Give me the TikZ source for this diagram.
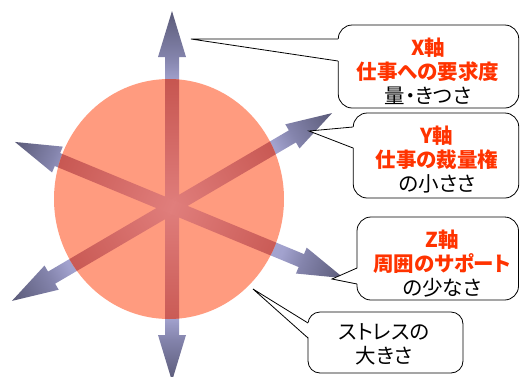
\documentclass[tikz,border=0pt]{standalone}
\usepackage{fontspec}
\newfontfamily\jp[RawFeature=+palt]{Noto Sans CJK JP}
\usetikzlibrary{calc}
\definecolor{armdark}{HTML}{5A5A78}
\definecolor{armmid}{HTML}{8484AC}
\definecolor{armlight}{HTML}{A2A2CE}
\definecolor{armcenter}{HTML}{B4B4DC}
\definecolor{ballfill}{HTML}{FF9B7F}
\definecolor{stripein}{HTML}{E07E7C}
\definecolor{stripeout}{HTML}{C4524C}
\definecolor{axred}{HTML}{FF3300}
\pgfdeclarehorizontalshading{armshade}{100bp}{color(0bp)=(armcenter); color(25bp)=(armcenter); color(57bp)=(armlight); color(63bp)=(armmid); color(75bp)=(armdark); color(100bp)=(armdark)}
\newcommand\halfarm[2]{%
  \begin{scope}[transform canvas={shift={(172,207)},rotate=#1}]
    \shade[shading=armshade] (0,-7) -- ({#2-46},-7) -- ({#2-46},-14) -- (#2,0) -- ({#2-46},14) -- ({#2-46},7) -- (0,7) -- cycle;
  \end{scope}}
\newcommand\armstripe[1]{%
  \begin{scope}[transform canvas={shift={(172,207)},rotate=#1}]
    \shade[left color=stripein, right color=stripeout] (0,-7) rectangle (140,7);
  \end{scope}}
\newcommand\ax[1]{{\bfseries\color{axred}#1}}
\tikzset{
  callout/.style={draw=black, line width=0.8pt, fill=white, rounded corners=14pt, inner sep=0pt},
  wedgeline/.style={draw=black, line width=0.8pt},
  txt/.style={font=\jp\fontsize{20.5}{24}\selectfont, align=center, inner sep=0pt, text=black}
}
\begin{document}
\begin{tikzpicture}[x=1pt, y=-1pt]
\useasboundingbox (0,0) rectangle (520,376);
\clip (0,0) rectangle (520,376);
% arrows
\halfarm{90}{196}
\halfarm{270}{174}
\halfarm{30.4}{185.6}
\halfarm{210.4}{185.6}
\halfarm{157.5}{170}
\halfarm{-22.5}{186}
% ball
\fill[ballfill] (169,199) ellipse [x radius=115pt, y radius=120pt];
\begin{scope}
  \clip (169,199) ellipse [x radius=115pt, y radius=120pt];
  \armstripe{90}\armstripe{270}\armstripe{30.4}\armstripe{210.4}\armstripe{157.5}\armstripe{-22.5}
\end{scope}
% callout X
\node[callout, minimum width=180.5pt, minimum height=83pt] (bx) at (428.5,66.5) {};
\coordinate (xtip) at (191,39); \coordinate (xa) at (338,39); \coordinate (xb) at (338,61);
\fill[white] (xtip) -- ($(xa)+(1.2,0)$) -- ($(xb)+(1.2,0)$) -- cycle;
\draw[wedgeline] (xa) -- (xtip) -- (xb);
\node[txt] (xt) at (428,71) {\ax{X軸}\\\ax{仕事への要求度}\\量・きつさ};
% callout Y
\node[callout, minimum width=165.5pt, minimum height=85pt] (by) at (436,155.5) {};
\coordinate (ytip) at (309,131); \coordinate (ya) at (353,127); \coordinate (yb) at (353,148);
\fill[white] (ytip) -- ($(ya)+(1.2,0)$) -- ($(yb)+(1.2,0)$) -- cycle;
\draw[wedgeline] (ya) -- (ytip) -- (yb);
\node[txt] (yt) at (437,160) {\ax{Y軸}\\\ax{仕事の裁量権}\\の小ささ};
% callout Z
\node[callout, minimum width=161.5pt, minimum height=83pt] (bz) at (437.75,258.5) {};
\coordinate (ztip) at (332,279); \coordinate (za) at (357,268); \coordinate (zb) at (357,284);
\fill[white] (ztip) -- ($(za)+(1.2,0)$) -- ($(zb)+(1.2,0)$) -- cycle;
\draw[wedgeline] (za) -- (ztip) -- (zb);
\node[txt] (zt) at (442,264) {\ax{Z軸}\\\ax{周囲のサポート}\\の少なさ};
% callout stress
\node[callout, minimum width=155pt, minimum height=61pt, rounded corners=12pt] (bs) at (385.5,342.5) {};
\coordinate (stip) at (253,289); \coordinate (sa) at (308,323); \coordinate (sb) at (308,338);
\fill[white] (stip) -- ($(sa)+(1.2,0)$) -- ($(sb)+(1.2,0)$) -- cycle;
\draw[wedgeline] (sa) -- (stip) -- (sb);
\node[txt] (st) at (384,344) {ストレスの\\大きさ};
\end{tikzpicture}
\end{document}
